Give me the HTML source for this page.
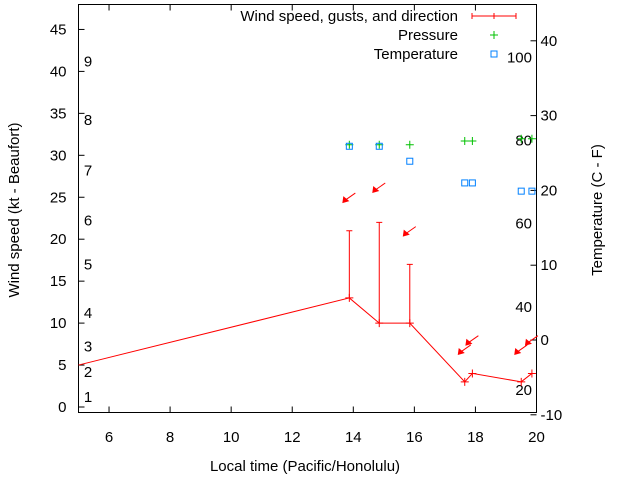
<!DOCTYPE html>
<html><head><meta charset="utf-8"><style>
html,body{margin:0;padding:0;background:#fff}
svg{display:block;font-family:"Liberation Sans",sans-serif}
</style></head><body>
<svg id="c" width="640" height="480">
<rect x="0" y="0" width="640" height="480" fill="#fff"/>
</svg>
<script>
const times=[5,13.87,14.85,15.85,17.65,17.9,19.5,19.85];
const wind=[5,13,10,10,3,4,3,4];
const gustTimes=[13.87,14.85,15.85];
const gusts=[21,22,17];
const arrowTimes=[13.87,14.85,15.85,17.65,17.9,19.5,19.85];
const arrowY=[24.9,26.1,20.9,6.8,7.9,6.8,7.9];
const pressTimes=[13.87,14.85,15.85,17.65,17.9,19.5,19.85];
const pressure=[26.1,26.1,26.1,26.6,26.6,26.9,26.9];
const tempTimes=[13.87,14.85,15.85,17.65,17.9,19.5,19.85];
const temps=[25.9,25.9,23.9,21,21,19.9,19.9];
const xTicks=[6,8,10,12,14,16,18,20];
const yTicks=[0,5,10,15,20,25,30,35,40,45];
const y2Ticks=[-10,0,10,20,30,40];
const beaufort=[[1,1.2],[2,4.2],[3,7.2],[4,11.2],[5,17],[6,22.2],[7,28.2],[8,34.2],[9,41.2]];
const fLabels=[20,40,60,80,100];

const L=78.5,R=536.5,T=4.5,B=412.5;
const FS=15;
const X=v=>L+(v-5)*(R-L)/15;
const Y=v=>407-v*8.39;
const Y2=v=>340-v*7.48;
const F=f=>Y2((f-32)*5/9);
const svg=document.getElementById('c');
const NS='http://www.w3.org/2000/svg';
function mk(tag,attrs,parent){const e=document.createElementNS(NS,tag);for(const k in attrs)e.setAttribute(k,attrs[k]);(parent||svg).appendChild(e);return e;}
function txt(x,y,s,anchor,size,rot){const e=mk('text',{x:x,y:y,'font-size':size||FS,'text-anchor':anchor||'middle',fill:'#000'});if(rot)e.setAttribute('transform',`rotate(${rot} ${x} ${y})`);e.textContent=s;return e;}

const frame=mk('rect',{x:L,y:T,width:R-L,height:B-T,fill:'none',stroke:'#000','stroke-width':1});



xTicks.forEach(v=>{
  const x=X(v);
  const t=mk('path',{d:`M${x} ${B}v-6M${x} ${T}v6`,stroke:'#000'});
  
  
  const l=txt(x,442,String(v));
  
  
});
yTicks.forEach(v=>{
  const y=Y(v);
  const t=mk('path',{d:`M${L} ${y}h6`,stroke:'#000'});
  
  
  const l=txt(L-12,y+5,String(v),'end');
  
  
});
y2Ticks.forEach(v=>{
  const y=Y2(v);
  const t=mk('path',{d:`M${R} ${y}h-6`,stroke:'#000'});
  
  
  const l=txt(R+4,y+5,String(v),'start');
  
  
});
beaufort.forEach(b=>{
  const l=txt(88,Y(b[1])+5,String(b[0]));
  
  
});
fLabels.forEach(f=>{
  const l=txt(532,F(f)+5,String(f),'end');
  
  
});

const wl=mk('polyline',{points:times.map((t,i)=>X(t)+','+Y(wind[i])).join(' '),fill:'none',stroke:'#f00','stroke-width':1});


times.forEach((t,i)=>{if(i===0)return;const x=X(t),y=Y(wind[i]);
  const p=mk('path',{d:`M${x-4} ${y}h8M${x} ${y-4}v8`,stroke:'#f00'});
  
  
});
gustTimes.forEach((t,i)=>{
  const x=X(t);const wi=times.indexOf(t);
  const p=mk('path',{d:`M${x} ${Y(wind[wi])}V${Y(gusts[i])}M${x-3} ${Y(gusts[i])}h6`,stroke:'#f00'});
  
  
});
arrowTimes.forEach((t,i)=>{
  const cx=X(t),cy=Y(arrowY[i]);
  const g=mk('g',{});
  
  
  mk('path',{d:`M${cx+6} ${cy-5}L${cx-4} ${cy+2}`,stroke:'#f00'},g);
  mk('polygon',{points:`${cx-7} ${cy+5} ${cx-6} ${cy-2} ${cx} ${cy+3}`,fill:'#f00'},g);
});
pressTimes.forEach((t,i)=>{const x=X(t),y=Y2(pressure[i]);
  const p=mk('path',{d:`M${x-4} ${y}h8M${x} ${y-4}v8`,stroke:'#00c000'});
  
  
});
tempTimes.forEach((t,i)=>{const x=X(t),y=Y2(temps[i]);
  const p=mk('rect',{x:x-3,y:y-3,width:6,height:6,fill:'none',stroke:'#0080ff'});
  
  
});

const lg=mk('g',{});


[['Wind speed, gusts, and direction',21],['Pressure',40],['Temperature',59]].forEach(e=>{
  const l=txt(458,e[1],e[0],'end');
  
  
});
mk('path',{d:'M472 16h44M472 13v6M516 13v6M494 13v6',stroke:'#f00'},lg);
mk('path',{d:'M490 35h8M494 31v8',stroke:'#00c000'},lg);
mk('rect',{x:491,y:51,width:6,height:6,fill:'none',stroke:'#0080ff'},lg);

const xt=txt(305,471,'Local time (Pacific/Honolulu)');


const yt=txt(19,210,'Wind speed (kt - Beaufort)','middle',FS,-90);


const y2t=txt(602,210,'Temperature (C - F)','middle',FS,-90);


</script>
</body></html>
